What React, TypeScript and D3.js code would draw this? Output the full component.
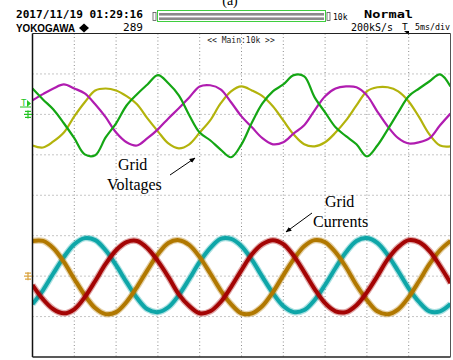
import React from "react";
import * as d3 from "d3";

// sample times in ms (1.25 ms steps over 10 div x 5 ms/div)
const times: number[] = d3.range(41).map((i) => i * 1.25);

// Grid voltages, in divisions relative to their ground marker
const vGreen = [0.64,0.37,0.12,-0.22,-0.59,-0.99,-1.01,-0.57,-0.22,0.22,0.50,0.74,0.97,0.77,0.47,-0.02,-0.45,-0.64,-0.87,-1.06,-0.74,-0.20,0.27,0.57,0.74,0.97,0.94,0.42,0.05,-0.32,-0.54,-0.74,-1.04,-0.77,-0.37,0.05,0.45,0.64,0.82,0.99,0.69];
const vMagenta = [0.35,0.50,0.64,0.74,0.64,0.52,0.25,-0.07,-0.45,-0.69,-0.77,-0.59,-0.37,-0.10,0.15,0.42,0.69,0.72,0.62,0.30,-0.05,-0.32,-0.59,-0.74,-0.69,-0.47,-0.27,0.10,0.45,0.64,0.69,0.67,0.47,0.07,-0.30,-0.59,-0.72,-0.69,-0.59,-0.27,0.02];
const vYellow = [-0.77,-0.82,-0.67,-0.45,-0.05,0.30,0.59,0.64,0.59,0.45,0.25,-0.10,-0.42,-0.72,-0.84,-0.74,-0.45,-0.15,0.27,0.57,0.69,0.59,0.45,0.20,-0.15,-0.50,-0.74,-0.79,-0.69,-0.45,-0.15,0.22,0.57,0.67,0.67,0.57,0.32,-0.07,-0.50,-0.77,-0.79];

// Grid currents, in divisions relative to their ground marker
const iCyan = [-0.69,-0.35,0.07,0.47,0.79,0.94,0.89,0.64,0.27,-0.15,-0.54,-0.82,-0.89,-0.77,-0.47,-0.07,0.35,0.69,0.92,0.92,0.74,0.40,-0.02,-0.42,-0.74,-0.89,-0.84,-0.59,-0.22,0.20,0.59,0.87,0.94,0.82,0.52,0.12,-0.30,-0.64,-0.87,-0.87,-0.69];
const iRed = [-0.22,-0.57,-0.82,-0.92,-0.82,-0.52,-0.12,0.30,0.64,0.84,0.87,0.69,0.37,-0.02,-0.45,-0.74,-0.92,-0.87,-0.64,-0.27,0.15,0.54,0.79,0.89,0.79,0.50,0.10,-0.32,-0.67,-0.87,-0.89,-0.72,-0.40,0.00,0.42,0.72,0.89,0.84,0.62,0.25,-0.17];
const iOrange = [0.87,0.87,0.69,0.35,-0.07,-0.47,-0.79,-0.94,-0.89,-0.64,-0.27,0.15,0.54,0.82,0.89,0.77,0.47,0.07,-0.35,-0.69,-0.92,-0.92,-0.74,-0.40,0.02,0.42,0.74,0.89,0.84,0.59,0.22,-0.22,-0.59,-0.87,-0.94,-0.82,-0.52,-0.12,0.30,0.64,0.87];

const voltageOffset = 2; // div
const currentOffset = -2; // div

const xDivs = d3.range(1, 10);
const yDivs = d3.range(-3, 4);

const W = 453;
const H = 360;
const L = 32.5, R = 450.5, T = 33.5, B = 357;

export default function App() {
  const x = d3.scaleLinear().domain([0, 50]).range([L, R]);
  const y = d3.scaleLinear().domain([-4, 4]).range([B, T]);
  const xd = d3.scaleLinear().domain([0, 10]).range([L, R]);

  const mk = (vals: number[], off: number) =>
    d3
      .line<number>()
      .x((_, i) => x(times[i]))
      .y((v) => y(v + off))
      .curve(d3.curveCatmullRom.alpha(0.5))(vals) as string;

  const volt = [
    { v: vYellow, c: "#b3b30c" },
    { v: vMagenta, c: "#b01cb0" },
    { v: vGreen, c: "#14a614" },
  ];
  const curr = [
    { v: iCyan, c: "#0ea6a8" },
    { v: iOrange, c: "#b17800" },
    { v: iRed, c: "#a40404" },
  ];

  const mono = "'DejaVu Sans Mono', monospace";
  const serif = "'Liberation Serif', 'DejaVu Serif', serif";

  const gV = y(voltageOffset);
  const gI = y(currentOffset);

  return (
    <svg
      width={W}
      height={H}
      style={{ position: "absolute", left: 0, top: 0, background: "#fff" }}
      xmlns="http://www.w3.org/2000/svg"
    >
      <defs>
        <clipPath id="plot">
          <rect x={L} y={T} width={R - L} height={B - T} />
        </clipPath>
        <marker id="ah" viewBox="0 0 10 10" refX="9" refY="5" markerWidth="6" markerHeight="6" orient="auto">
          <path d="M0,1 L10,5 L0,9 z" fill="#000" />
        </marker>
      </defs>

      {/* header */}
      <text x={230} y={5} textAnchor="middle" fontFamily={serif} fontSize={14}>(a)</text>
      <text x={16} y={18} fontFamily={mono} fontSize={11} fontWeight="bold" textLength={127} lengthAdjust="spacingAndGlyphs">2017/11/19 01:29:16</text>
      <text x={16} y={32} fontFamily="'Liberation Sans', Arial, sans-serif" fontSize={11.5} fontWeight="bold" textLength={59} lengthAdjust="spacingAndGlyphs">YOKOGAWA</text>
      <path d="M84,23.5 L89,28 L84,32.5 L79,28 Z" fill="#000" />
      <text x={123} y={31} fontFamily={mono} fontSize={11} textLength={20} lengthAdjust="spacingAndGlyphs">289</text>

      <rect x={153} y={12.5} width={3} height={8} fill="#fff" stroke="#555" strokeWidth={0.8} />
      <rect x={157.5} y={10.5} width={168} height={11} fill="#fff" stroke="#3fce3f" strokeWidth={1} />
      <rect x={159} y={13} width={165} height={2.6} fill="#8a8a8a" />
      <rect x={159} y={17.4} width={165} height={2.6} fill="#8a8a8a" />
      <rect x={327} y={12.5} width={3} height={8} fill="#fff" stroke="#555" strokeWidth={0.8} />
      <text x={333} y={20} fontFamily={mono} fontSize={8}>10k</text>

      <text x={364} y={17.5} fontFamily={mono} fontSize={10.5} fontWeight="bold" textLength={49} lengthAdjust="spacingAndGlyphs">Normal</text>
      <text x={351} y={30.5} fontFamily={mono} fontSize={10} textLength={42} lengthAdjust="spacingAndGlyphs">200kS/s</text>
      <text x={402} y={30} fontFamily={mono} fontSize={9.5}>T</text>
      <path d="M404,31 L409,31 L409,35 Z" fill="#000" />
      <text x={415} y={30} fontFamily={mono} fontSize={8.5} textLength={35} lengthAdjust="spacingAndGlyphs">5ms/div</text>

      {/* grid */}
      {xDivs.map((k) => (
        <line key={"vx" + k} x1={xd(k)} x2={xd(k)} y1={T} y2={B} stroke="#8c8c8c" strokeWidth={1} strokeDasharray="1 2.5" />
      ))}
      {yDivs.map((k) => (
        <line key={"hy" + k} x1={L} x2={R} y1={y(k)} y2={y(k)} stroke="#8c8c8c" strokeWidth={1} strokeDasharray="1 3" />
      ))}

      <text x={241} y={43} textAnchor="middle" fontFamily={mono} fontSize={8} fill="#222">{"<< Main:10k >>"}</text>

      {/* traces */}
      <g clipPath="url(#plot)" fill="none" strokeLinejoin="round">
        {volt.map((s, i) => (
          <path key={"v" + i} d={mk(s.v, voltageOffset)} stroke={s.c} strokeWidth={2.2} />
        ))}
        {curr.map((s, i) => (
          <g key={"c" + i}>
            <path d={mk(s.v, currentOffset)} stroke={s.c} strokeWidth={6.5} strokeOpacity={0.35} />
            <path d={mk(s.v, currentOffset)} stroke={s.c} strokeWidth={4} />
          </g>
        ))}
      </g>

      {/* frame */}
      <line x1={L} x2={R} y1={T} y2={T} stroke="#222" strokeWidth={1} />
      <line x1={L} x2={L} y1={T} y2={B} stroke="#111" strokeWidth={1.5} />
      <line x1={L} x2={R} y1={B} y2={B} stroke="#222" strokeWidth={1.5} />
      <line x1={R} x2={R} y1={T} y2={B} stroke="#555" strokeWidth={1} />

      {/* channel markers */}
      <text x={21} y={106} fontFamily={mono} fontSize={9} fill="#22c422">T</text>
      <path d={`M27,100 L31,103.5 L27,107 Z`} fill="#22c422" />
      <line x1={20} x2={31} y1={107} y2={107} stroke="#22c422" strokeWidth={1} />
      <g stroke="#22c422" strokeWidth={1.2}>
        <line x1={25} x2={31} y1={gV - 3} y2={gV - 3} />
        <line x1={24} x2={32} y1={gV} y2={gV} />
        <line x1={25} x2={31} y1={gV + 3} y2={gV + 3} />
        <line x1={28} x2={28} y1={gV - 4} y2={gV + 4} />
      </g>
      <g stroke="#d9a13a" strokeWidth={1.2}>
        <line x1={25} x2={31} y1={gI - 3} y2={gI - 3} />
        <line x1={24} x2={32} y1={gI} y2={gI} />
        <line x1={25} x2={31} y1={gI + 3} y2={gI + 3} />
        <line x1={28} x2={28} y1={gI - 4} y2={gI + 4} />
      </g>

      {/* annotations */}
      <text x={118} y={170} fontFamily={serif} fontSize={16}>Grid</text>
      <text x={107} y={190} fontFamily={serif} fontSize={16}>Voltages</text>
      <line x1={170} y1={175} x2={195} y2={158} stroke="#000" strokeWidth={1} markerEnd="url(#ah)" />
      <text x={325} y={207} fontFamily={serif} fontSize={16}>Grid</text>
      <text x={313} y={227} fontFamily={serif} fontSize={16}>Currents</text>
      <line x1={312} y1={213} x2={286} y2={232} stroke="#000" strokeWidth={1} markerEnd="url(#ah)" />
    </svg>
  );
}
